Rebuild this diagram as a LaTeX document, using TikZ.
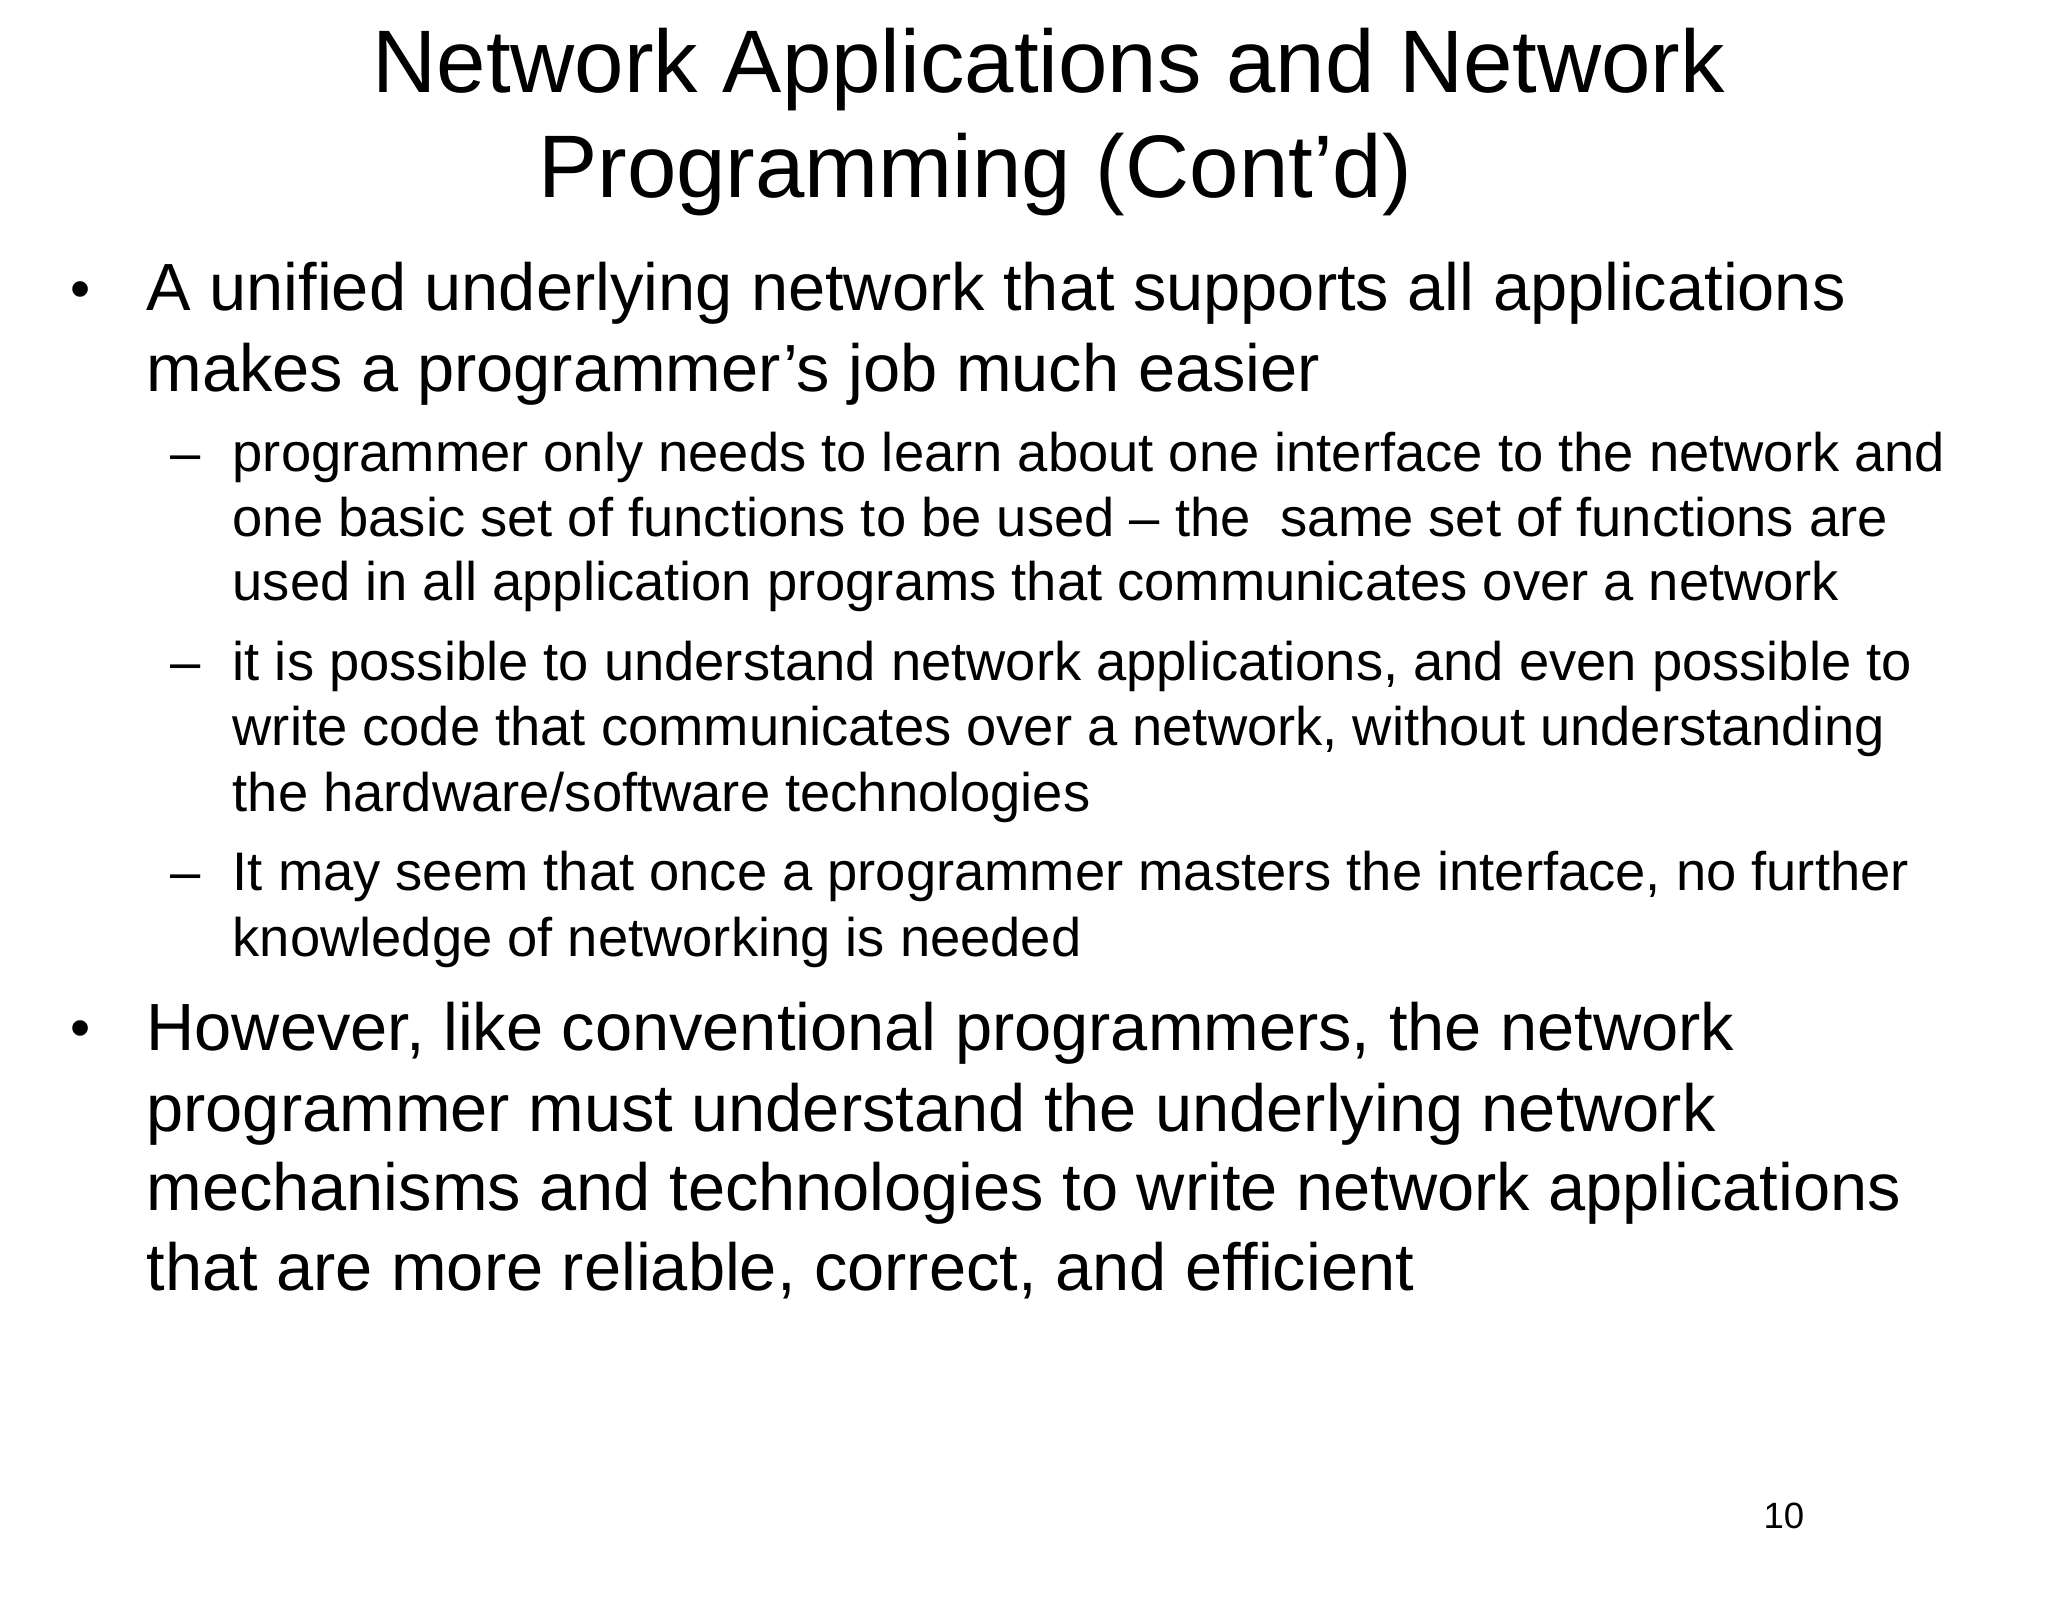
\documentclass[tikz,border=0pt]{standalone}
\usepackage{fontspec}
\setmainfont{Liberation Sans}
\begin{document}
\begin{tikzpicture}[x=1pt,y=-1pt,
  ttl/.style={anchor=base west,inner sep=0pt,font=\fontsize{68}{68}\selectfont},
  lone/.style={anchor=base west,inner sep=0pt,font=\fontsize{51.1}{51}\selectfont},
  ltwo/.style={anchor=base west,inner sep=0pt,font=\fontsize{41.6}{41}\selectfont}]
\useasboundingbox[fill=white] (0,0) rectangle (1568,1227);
\node[ttl] (t1) at (285,71) {Network Applications and Network};
\node[ttl] (t2) at (412,151) {Programming (Cont’d)};
\node[lone,font=\fontsize{44}{44}\selectfont] (b1) at (54,236) {•};
\node[lone] (a1) at (112,238) {A unified underlying network that supports all applications};
\node[lone] (a2) at (112,300) {makes a programmer{\char"27}s job much easier};
\node[ltwo] (d1) at (130,361) {–};
\node[ltwo] (s1) at (178,361) {programmer only needs to learn about one interface to the network and};
\node[ltwo] (s2) at (178,411) {one basic set of functions to be used – the\ \ same set of functions are};
\node[ltwo] (s3) at (178,460) {used in all application programs that communicates over a network};
\node[ltwo] (d2) at (130,521) {–};
\node[ltwo] (s4) at (178,521) {it is possible to understand network applications, and even possible to};
\node[ltwo] (s5) at (178,571) {write code that communicates over a network, without understanding};
\node[ltwo] (s6) at (178,621) {the hardware/software technologies};
\node[ltwo] (d3) at (130,682) {–};
\node[ltwo] (s7) at (178,682) {It may seem that once a programmer masters the interface, no further};
\node[ltwo] (s8) at (178,732) {knowledge of networking is needed};
\node[lone,font=\fontsize{44}{44}\selectfont] (b2) at (54,802) {•};
\node[lone] (c1) at (112,804) {However, like conventional programmers, the network};
\node[lone] (c2) at (112,866) {programmer must understand the underlying network};
\node[lone] (c3) at (112,927) {mechanisms and technologies to write network applications};
\node[lone] (c4) at (112,988) {that are more reliable, correct, and efficient};
\node[anchor=base west,inner sep=0pt,font=\fontsize{28}{28}\selectfont] (pg) at (1350,1170) {10};
\end{tikzpicture}
\end{document}
